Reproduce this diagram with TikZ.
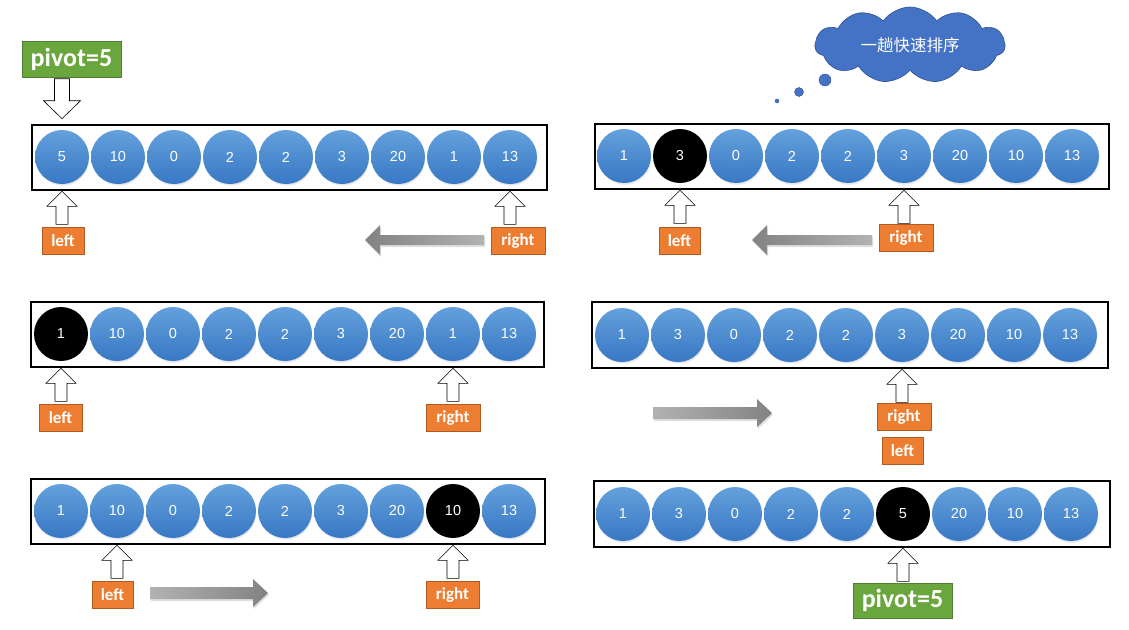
\documentclass[tikz,border=0pt]{standalone}
\usepackage{fontspec}
\usetikzlibrary{shapes.symbols,shadows,calc}
\newfontfamily\numfont{Liberation Sans}
\newfontfamily\lblfont{Carlito}
\newfontfamily\cjkfont{Noto Sans CJK SC}
\definecolor{ctop}{RGB}{100,160,220}
\definecolor{cbot}{RGB}{56,120,196}
\definecolor{orfill}{RGB}{237,125,49}
\definecolor{ordraw}{RGB}{174,90,33}
\definecolor{grfill}{RGB}{106,166,62}
\definecolor{grdraw}{RGB}{80,126,50}
\definecolor{cloudfill}{RGB}{68,114,196}
\definecolor{clouddraw}{RGB}{47,82,143}
\definecolor{gdark}{RGB}{130,130,130}
\definecolor{glight}{RGB}{178,178,178}
\newcommand\blkup[2]{\draw[blockarr] (#1.center |- #2.south) -- ++(15,15) -- ++(-9,0) -- ++(0,18) -- ++(-12,0) -- ++(0,-18) -- ++(-9,0) -- cycle;}
\newcommand\garrL[3]{\shade[garrow, left color=gdark, right color=glight] (#1,#3-5) -- (#2+15,#3-5) -- (#2+15,#3-15) -- (#2,#3) -- (#2+15,#3+15) -- (#2+15,#3+5) -- (#1,#3+5) -- cycle;}
\newcommand\garrR[3]{\shade[garrow, left color=glight, right color=gdark] (#1,#3-6) -- (#2-15,#3-6) -- (#2-15,#3-14) -- (#2,#3) -- (#2-15,#3+14) -- (#2-15,#3+6) -- (#1,#3+6) -- cycle;}
\begin{document}
\begin{tikzpicture}[x=1pt,y=-1pt,
  panelbox/.style={draw=black, line width=2.6pt, fill=white, inner sep=0pt},
  cbase/.style={circle, minimum size=54pt, inner sep=0pt, text=white, font=\numfont\fontsize{14.5}{14.5}\selectfont},
  bluec/.style={cbase, top color=ctop, bottom color=cbot, draw=none,
     circular drop shadow={shadow xshift=0.6pt, shadow yshift=-2.2pt, opacity=0.35, shadow scale=1.0}},
  blackc/.style={cbase, fill=black},
  lbl/.style={draw=ordraw, fill=orfill, line width=0.8pt, text=white, inner sep=0pt,
     font=\lblfont\bfseries\fontsize{17}{17}\selectfont, minimum height=27pt},
  pivot/.style={draw=grdraw, fill=grfill, line width=0.8pt, text=white, inner sep=0pt,
     font=\lblfont\bfseries\fontsize{26}{26}\selectfont, minimum width=99pt, minimum height=36pt},
  blockarr/.style={draw=black, fill=white, line width=0.6pt, line join=miter},
  garrow/.style={drop shadow={shadow xshift=1pt, shadow yshift=-2pt, opacity=0.25}},
  bubble/.style={circle, fill=cloudfill, draw=clouddraw, line width=0.4pt, inner sep=0pt}
]
\useasboundingbox (0,0) rectangle (1129,629);

% ---------- panel A (row 1 left)
\node[panelbox, minimum width=515pt, minimum height=65pt] (PA) at (289.5,157.5) {};
\foreach \v/\s [count=\i] in {5/bluec,10/bluec,0/bluec,2/bluec,2/bluec,3/bluec,20/bluec,1/bluec,13/bluec}
  \node[\s] (A\i) at ({62+56*(\i-1)},157) {\v};
\node[pivot] (pivA) at (71.5,59) {pivot=5};
\draw[blockarr] ([yshift=5pt]A1.center |- PA.north) -- ++(18.5,-18) -- ++(-11,0) -- ++(0,-22) -- ++(-15,0) -- ++(0,22) -- ++(-11,0) -- cycle;
\node[lbl, minimum width=42pt] (Aleft) at (63,240.5) {left};
\node[lbl, minimum width=54pt] (Aright) at (518,240.5) {right};
\blkup{A1}{PA}
\blkup{A9}{PA}
\garrL{484}{365}{240}

% ---------- panel B (row 1 right)
\node[panelbox, minimum width=514pt, minimum height=65pt] (PB) at (852,156.5) {};
\foreach \v/\s [count=\i] in {1/bluec,3/blackc,0/bluec,2/bluec,2/bluec,3/bluec,20/bluec,10/bluec,13/bluec}
  \node[\s] (B\i) at ({624+56*(\i-1)},156) {\v};
\node[lbl, minimum width=41pt] (Bleft) at (679.5,241) {left};
\node[lbl, minimum width=54pt] (Bright) at (906,237.5) {right};
\blkup{B2}{PB}
\blkup{B6}{PB}
\garrL{872}{752}{240}

% cloud
\node[cloud, cloud puffs=11, cloud puff arc=110, aspect=2.7, fill=cloudfill, draw=clouddraw, line width=0.6pt,
  minimum width=190pt, minimum height=76pt, inner sep=0pt, text=white,
  font=\cjkfont\fontsize{16.5}{16.5}\selectfont] (cloud) at (910,45) {一趟快速排序};
\node[bubble, minimum size=12pt] (bub1) at (825,80) {};
\node[bubble, minimum size=9pt] (bub2) at (799,92) {};
\node[bubble, minimum size=4pt] (bub3) at (777,101) {};

% ---------- panel C (row 2 left)
\node[panelbox, minimum width=513pt, minimum height=65pt] (PC) at (287.5,334.5) {};
\foreach \v/\s [count=\i] in {1/blackc,10/bluec,0/bluec,2/bluec,2/bluec,3/bluec,20/bluec,1/bluec,13/bluec}
  \node[\s] (C\i) at ({61+56*(\i-1)},334) {\v};
\node[lbl, minimum width=43pt] (Cleft) at (60.5,418) {left};
\node[lbl, minimum width=54pt] (Cright) at (453,418) {right};
\blkup{C1}{PC}
\blkup{C8}{PC}

% ---------- panel D (row 2 right)
\node[panelbox, minimum width=516pt, minimum height=66pt] (PD) at (850,335) {};
\foreach \v/\s [count=\i] in {1/bluec,3/bluec,0/bluec,2/bluec,2/bluec,3/bluec,20/bluec,10/bluec,13/bluec}
  \node[\s] (D\i) at ({622+56*(\i-1)},335) {\v};
\node[lbl, minimum width=54pt] (Dright) at (904,417) {right};
\node[lbl, minimum width=41pt] (Dleft) at (902.5,450.5) {left};
\blkup{D6}{PD}
\garrR{653}{772}{413}

% ---------- panel E (row 3 left)
\node[panelbox, minimum width=514pt, minimum height=65pt] (PE) at (288,511.5) {};
\foreach \v/\s [count=\i] in {1/bluec,10/bluec,0/bluec,2/bluec,2/bluec,3/bluec,20/bluec,10/blackc,13/bluec}
  \node[\s] (E\i) at ({61+56*(\i-1)},511) {\v};
\node[lbl, minimum width=41pt] (Eleft) at (112.5,594.5) {left};
\node[lbl, minimum width=53pt] (Eright) at (452.5,594.5) {right};
\blkup{E2}{PE}
\blkup{E8}{PE}
\garrR{150}{268}{593}

% ---------- panel F (row 3 right)
\node[panelbox, minimum width=516pt, minimum height=66pt] (PF) at (852,514) {};
\foreach \v/\s [count=\i] in {1/bluec,3/bluec,0/bluec,2/bluec,2/bluec,5/blackc,20/bluec,10/bluec,13/bluec}
  \node[\s] (F\i) at ({623+56*(\i-1)},514) {\v};
\node[pivot, minimum height=35pt] (pivF) at (902.5,600.5) {pivot=5};
\blkup{F6}{PF}
\end{tikzpicture}
\end{document}
